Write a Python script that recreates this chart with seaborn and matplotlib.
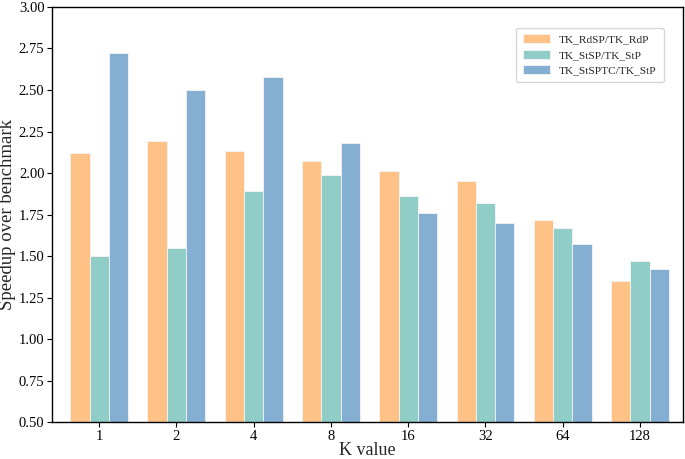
import matplotlib
matplotlib.use("Agg")
import matplotlib.pyplot as plt
import seaborn as sns
import pandas as pd

k_values = ["1", "2", "4", "8", "16", "32", "64", "128"]
rdsp = [2.12, 2.19, 2.13, 2.07, 2.01, 1.95, 1.72, 1.35]
stsp = [1.50, 1.55, 1.89, 1.99, 1.86, 1.82, 1.67, 1.47]
stsptc = [2.72, 2.50, 2.58, 2.18, 1.76, 1.70, 1.57, 1.42]
series_names = ["TK_RdSP/TK_RdP", "TK_StSP/TK_StP", "TK_StSPTC/TK_StP"]
colors = ["#FEC286", "#8FCDC6", "#84AFD3"]

rows = []
for name, vals in zip(series_names, [rdsp, stsp, stsptc]):
    for k, v in zip(k_values, vals):
        rows.append({"K": k, "speedup": v, "series": name})
df = pd.DataFrame(rows)

sns.set_theme(style="ticks")
plt.rcParams["font.family"] = ["Liberation Serif", "DejaVu Serif"]
plt.rcParams["xtick.direction"] = "out"
plt.rcParams["ytick.direction"] = "out"

fig = plt.figure(figsize=(6.85, 4.59), dpi=100)
ax = fig.add_axes([0.076, 0.08, 0.9215, 0.905])
sns.barplot(data=df, x="K", y="speedup", hue="series", order=k_values,
            hue_order=series_names, palette=colors, width=0.75, saturation=1,
            edgecolor="#f4f4f4", linewidth=0.6, ax=ax)

ax.set_ylim(0.5, 3.0)
ax.set_xlim(-0.61, 7.56)
ax.set_yticks([0.5, 0.75, 1.0, 1.25, 1.5, 1.75, 2.0, 2.25, 2.5, 2.75, 3.0])
ax.set_yticklabels([f"{v:.2f}" for v in ax.get_yticks()])
ax.set_xlabel("K value", fontsize=13, labelpad=-1)
ax.set_ylabel("Speedup over benchmark", fontsize=13.5, labelpad=2)
ax.tick_params(axis="both", labelsize=10.5, colors="black", length=3.5, width=0.8, pad=2)
for s in ax.spines.values():
    s.set_visible(True)
    s.set_color("black")
    s.set_linewidth(1.0)
leg = ax.legend(loc="upper right", fontsize=8.2, frameon=True,
                bbox_to_anchor=(0.978, 0.964), borderpad=0.6, labelspacing=0.45,
                handlelength=2.4, handleheight=0.8)
leg.get_frame().set_edgecolor("#cccccc")
leg.set_title(None)

fig.savefig("out.png", dpi=100)
